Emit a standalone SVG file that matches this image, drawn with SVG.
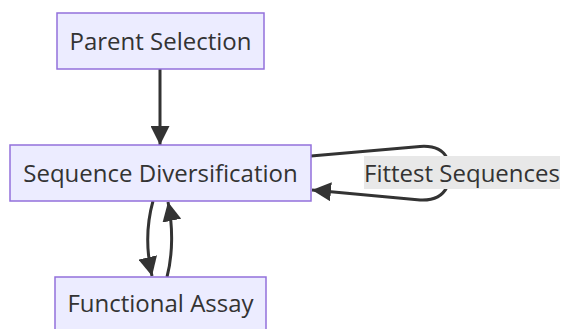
<svg xmlns="http://www.w3.org/2000/svg" width="563" height="329" viewBox="0 0 563 329">
<style>
.node rect{fill:#ECECFF;stroke:#9370DB;stroke-width:1.5}
.node text,.lbl text{font-family:"Open Sans","Noto Sans","Liberation Sans",sans-serif;font-size:24px;fill:#333333;text-anchor:middle}
.edge{fill:none;stroke:#333333;stroke-width:3}
</style>
<defs>
<marker id="ah" viewBox="0 0 10 10" refX="10" refY="5" markerUnits="userSpaceOnUse" markerWidth="19" markerHeight="19" orient="auto">
<path d="M0,0 L10,5 L0,10 z" fill="#333333"/>
</marker>
</defs>
<g id="edges">
<path class="edge" d="M160,69 L160,145" marker-end="url(#ah)"/>
<path class="edge" d="M153,201 C146,226 146,250 152,276" marker-end="url(#ah)"/>
<path class="edge" d="M167,277 C173,254 173,226 168,202" marker-end="url(#ah)"/>
<path class="edge" d="M311,156 L420,146.5 Q440,145 447,158"/>
<path class="edge" d="M447,187 Q440,201 420,200 L312,190" marker-end="url(#ah)"/>
</g>
<g id="node-parent" class="node">
<rect x="57" y="13" width="207" height="56"/>
<text x="160.5" y="50">Parent Selection</text>
</g>
<g id="node-seqdiv" class="node">
<rect x="10" y="145" width="301" height="56"/>
<text x="160.5" y="182">Sequence Diversification</text>
</g>
<g id="node-assay" class="node">
<rect x="55" y="277" width="211" height="56"/>
<text x="160.5" y="312">Functional Assay</text>
</g>
<g id="label-fittest" class="lbl">
<rect x="364" y="156" width="196" height="33" fill="#e8e8e8"/>
<text x="462" y="182">Fittest Sequences</text>
</g>
</svg>
